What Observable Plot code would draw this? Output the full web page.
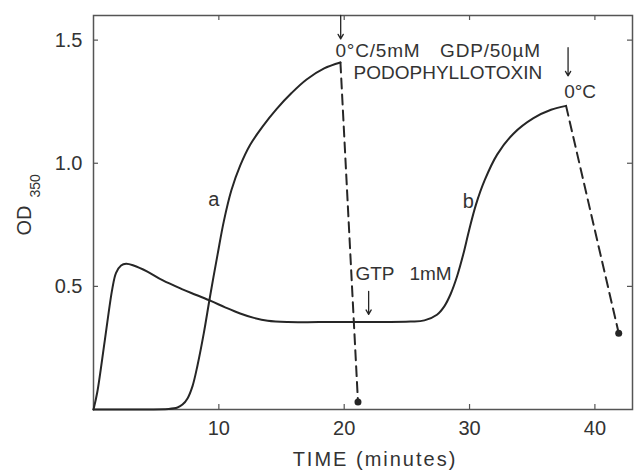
<!DOCTYPE html>
<html><head><meta charset="utf-8">
<script src="https://cdn.jsdelivr.net/npm/d3@7"></script>
<script src="https://cdn.jsdelivr.net/npm/@observablehq/plot@0.6"></script>
<style>body{margin:0;background:#fff} svg{display:block}</style>
</head><body><div id="chart"></div>
<script>
// Curve a (solid)
const timeA = [0, 3, 6, 6.7, 7.1, 7.5, 7.9, 8.3, 8.8, 9.3, 9.9, 10.4, 11.0, 11.7, 12.5, 13.5, 14.6, 15.8, 17.0, 18.4, 19.7];
const odA   = [0, 0, 0.002, 0.008, 0.02, 0.045, 0.095, 0.18, 0.31, 0.46, 0.63, 0.765, 0.89, 0.99, 1.075, 1.15, 1.22, 1.285, 1.34, 1.385, 1.409];
// Curve b (solid)
const timeB = [0, 0.3, 0.9, 1.5, 1.8, 2.2, 2.6, 3.2, 4.3, 5.5, 7.0, 8.2, 9.4, 10.5, 11.7, 12.8, 13.9, 15.5, 18, 22, 25.3, 26.4, 27.4, 28.0, 28.5, 29.0, 29.5, 29.95, 30.5, 31.2, 32.2, 33.5, 35.1, 36.5, 37.7];
const odB   = [0, 0.07, 0.28, 0.49, 0.555, 0.585, 0.592, 0.585, 0.56, 0.525, 0.49, 0.465, 0.44, 0.415, 0.39, 0.372, 0.36, 0.355, 0.355, 0.355, 0.357, 0.362, 0.385, 0.42, 0.47, 0.54, 0.63, 0.725, 0.83, 0.93, 1.035, 1.12, 1.183, 1.217, 1.233];
// Cold-depolymerisation (dashed) segments
const timeCoolA = [19.7, 21.1];
const odCoolA   = [1.409, 0.03];
const timeCoolB = [37.7, 41.9];
const odCoolB   = [1.233, 0.31];

const xTicks = [10, 20, 30, 40];
const yTicks = [0.5, 1.0, 1.5];
const xDomain = [0, 43];
const yDomain = [0, 1.6];

const curveLabels = ["a", "b"];
const curveLabelTime = [9.6, 29.9];
const curveLabelOD = [0.854, 0.846];

const noteText = ["0°C/5mM", "GDP/50µM", "PODOPHYLLOTOXIN", "0°C", "GTP", "1mM"];
const noteTime = [19.3, 27.65, 20.75, 37.55, 20.9, 25.2];
const noteOD   = [1.457, 1.457, 1.367, 1.29, 0.549, 0.549];

const arrowTime = [19.72, 37.86, 21.95];
const arrowFrom = [1.6, 1.469, 0.48];
const arrowTo   = [1.505, 1.355, 0.386];

const zip = (t, v) => t.map((x, i) => ({t: x, od: v[i]}));
const lineA = zip(timeA, odA), lineB = zip(timeB, odB);
const coolA = zip(timeCoolA, odCoolA), coolB = zip(timeCoolB, odCoolB);
const ends = [coolA[1], coolB[1]];
const labels = curveLabels.map((s, i) => ({s, t: curveLabelTime[i], od: curveLabelOD[i]}));
const notes = noteText.map((s, i) => ({s, t: noteTime[i], od: noteOD[i]}));
const arrows = arrowTime.map((t, i) => ({t, y1: arrowFrom[i], y2: arrowTo[i]}));

const ink = "#262626";
const font = "Liberation Sans, Arial, Helvetica, sans-serif";

const chart = Plot.plot({
  width: 636, height: 470,
  marginLeft: 93, marginRight: 4, marginTop: 15, marginBottom: 61,
  style: {fontFamily: font, background: "#fff", color: ink},
  x: {domain: xDomain},
  y: {domain: yDomain},
  marks: [
    Plot.frame({stroke: "#555", strokeWidth: 1.5}),
    Plot.ruleX(xTicks, {x: d => d, y1: 0, y2: 0, insetTop: -5, stroke: "#555", strokeWidth: 1.2}),
    Plot.ruleX(xTicks, {x: d => d, y1: 1.6, y2: 1.6, insetBottom: -5, stroke: "#555", strokeWidth: 1.2}),
    Plot.ruleY(yTicks, {y: d => d, x1: 0, x2: 0, insetRight: -5, stroke: "#555", strokeWidth: 1.2}),
    Plot.ruleY(yTicks, {y: d => d, x1: 43, x2: 43, insetLeft: -5, stroke: "#555", strokeWidth: 1.2}),
    Plot.axisX(xTicks, {tickSize: 0, tickPadding: 11, fontSize: 20, label: null, fill: "#333"}),
    Plot.axisY(yTicks, {tickSize: 0, tickPadding: 11, fontSize: 20, label: null, tickFormat: d3.format(".1f"), fill: "#333"}),
    Plot.line(lineA, {x: "t", y: "od", curve: "catmull-rom", stroke: ink, strokeWidth: 2}),
    Plot.line(lineB, {x: "t", y: "od", curve: "catmull-rom", stroke: ink, strokeWidth: 2}),
    Plot.line(coolA, {x: "t", y: "od", stroke: ink, strokeWidth: 2, strokeDasharray: "10,6"}),
    Plot.line(coolB, {x: "t", y: "od", stroke: ink, strokeWidth: 2, strokeDasharray: "10,6"}),
    Plot.dot(ends, {x: "t", y: "od", r: 3.5, fill: ink, stroke: null}),
    Plot.arrow(arrows, {x1: "t", x2: "t", y1: "y1", y2: "y2", headLength: 6, stroke: ink, strokeWidth: 1.3}),
    Plot.text(labels, {x: "t", y: "od", text: "s", fontSize: 20, fill: "#333"}),
    Plot.text(notes, {x: "t", y: "od", text: "s", fontSize: 19, textAnchor: "start", fill: "#333"}),
    Plot.text(["TIME (minutes)"], {frameAnchor: "bottom", dx: 12, dy: 50, fontSize: 20, fill: "#333", lineAnchor: "middle"}),
    Plot.text(["OD"], {frameAnchor: "left", dx: -69, dy: 23, rotate: -90, textAnchor: "start", fontSize: 20, fill: "#333"}),
    Plot.text(["350"], {frameAnchor: "left", dx: -57.5, dy: -15, rotate: -90, textAnchor: "start", fontSize: 14, fill: "#333"})
  ]
});
// widen letter spacing of the x-axis title and notes, as in the typeset original
d3.select(chart).selectAll("text").filter(function() { return this.textContent === "TIME (minutes)"; })
  .attr("letter-spacing", "2px");
d3.select(chart).selectAll("text").filter(function() { return this.textContent === "0°C/5mM" || this.textContent === "GDP/50µM"; })
  .attr("letter-spacing", "0.8px");
document.getElementById("chart").append(chart);
</script>
</body></html>
